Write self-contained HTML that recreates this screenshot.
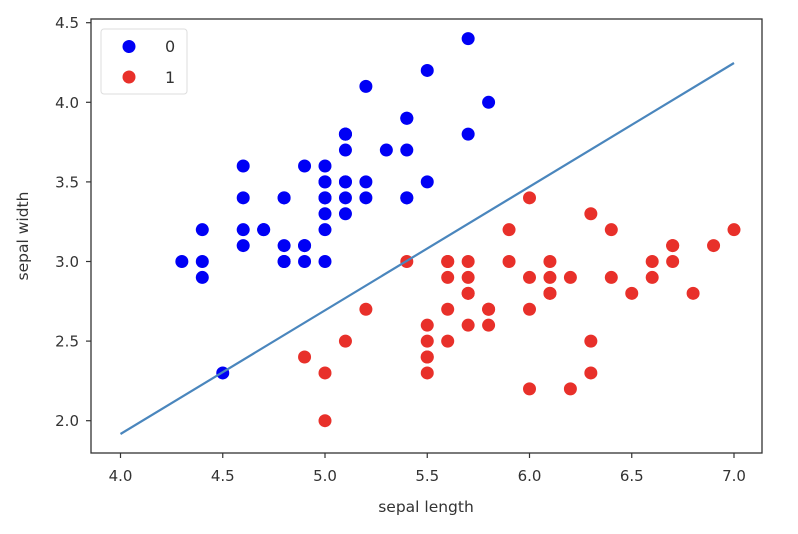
<!DOCTYPE html><html><head><style>body{margin:0;background:#fff}svg{display:block;font-family:"DejaVu Sans","Liberation Sans",sans-serif}</style></head><body>
<svg id="s" width="798" height="534" xmlns="http://www.w3.org/2000/svg">
<rect width="798" height="534" fill="#fff"/>
<g id="pts"></g>
<line x1="120.5" y1="434" x2="734" y2="63" stroke="#4a86bd" stroke-width="2.2"/>
<rect x="91" y="19" width="671" height="434" fill="none" stroke="#333" stroke-width="1.3"/>
<g id="ax" fill="#333" font-size="15"></g>
<text x="426" y="512" font-size="15.5" text-anchor="middle" fill="#333">sepal length</text>
<text transform="translate(28,236) rotate(-90)" font-size="15.5" text-anchor="middle" fill="#333">sepal width</text>
<rect x="101" y="29" width="86" height="65" rx="3" fill="#fff" stroke="#ddd"/>
<circle cx="129" cy="46.5" r="6.5" fill="#0000f5"/><text x="165" y="52" font-size="16" fill="#333">0</text>
<circle cx="129" cy="77" r="6.5" fill="#e8302a"/><text x="165" y="83" font-size="16" fill="#333">1</text>
</svg>
<script>
var X=v=>120.5+(v-4)*204.5, Y=v=>420.7-(v-2)*159.2;
var b=[5.1,3.5,4.9,3.0,4.7,3.2,4.6,3.1,5.0,3.6,5.4,3.9,4.6,3.4,5.0,3.4,4.4,2.9,4.9,3.1,5.4,3.7,4.8,3.4,4.8,3.0,4.3,3.0,5.8,4.0,5.7,4.4,5.4,3.9,5.1,3.5,5.7,3.8,5.1,3.8,5.4,3.4,5.1,3.7,4.6,3.6,5.1,3.3,4.8,3.4,5.0,3.0,5.0,3.4,5.2,3.5,5.2,3.4,4.7,3.2,4.8,3.1,5.4,3.4,5.2,4.1,5.5,4.2,4.9,3.1,5.0,3.2,5.5,3.5,4.9,3.6,4.4,3.0,5.1,3.4,5.0,3.5,4.5,2.3,4.4,3.2,5.0,3.5,5.1,3.8,4.8,3.0,5.1,3.8,4.6,3.2,5.3,3.7,5.0,3.3];
var r=[7.0,3.2,6.4,3.2,6.9,3.1,5.5,2.3,6.5,2.8,5.7,2.8,6.3,3.3,4.9,2.4,6.6,2.9,5.2,2.7,5.0,2.0,5.9,3.0,6.0,2.2,6.1,2.9,5.6,2.9,6.7,3.1,5.6,3.0,5.8,2.7,6.2,2.2,5.6,2.5,5.9,3.2,6.1,2.8,6.3,2.5,6.1,2.8,6.4,2.9,6.6,3.0,6.8,2.8,6.7,3.0,6.0,2.9,5.7,2.6,5.5,2.4,5.5,2.4,5.8,2.7,6.0,2.7,5.4,3.0,6.0,3.4,6.7,3.1,6.3,2.3,5.6,3.0,5.5,2.5,5.5,2.6,6.1,3.0,5.8,2.6,5.0,2.3,5.6,2.7,5.7,3.0,5.7,2.9,6.2,2.9,5.1,2.5,5.7,2.8];
var h='';
for(var i=0;i<b.length;i+=2)h+='<circle cx="'+X(b[i])+'" cy="'+Y(b[i+1])+'" r="6.5" fill="#0000f5"/>';
for(var i=0;i<r.length;i+=2)h+='<circle cx="'+X(r[i])+'" cy="'+Y(r[i+1])+'" r="6.5" fill="#e8302a"/>';
document.getElementById('pts').innerHTML=h;
var a='';
for(var v=4;v<=7.001;v+=0.5){var x=X(v);a+='<rect x="'+(x-0.6)+'" y="453" width="1.2" height="5"/><text x="'+x+'" y="481" text-anchor="middle">'+v.toFixed(1)+'</text>';}
for(var v=2;v<=4.501;v+=0.5){var y=Y(v);a+='<rect x="86" y="'+(y-0.6)+'" width="5" height="1.2"/><text x="79" y="'+(y+5.5)+'" text-anchor="end">'+v.toFixed(1)+'</text>';}
document.getElementById('ax').innerHTML=a;
</script>
</body></html>
